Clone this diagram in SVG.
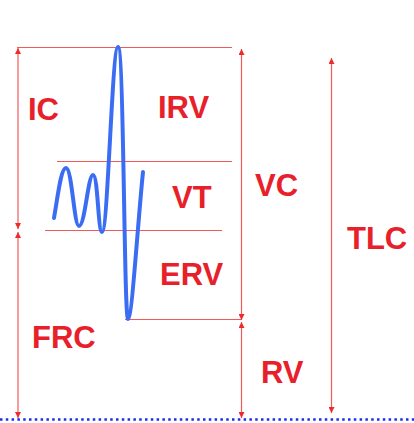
<svg xmlns="http://www.w3.org/2000/svg" width="414" height="423" viewBox="0 0 414 423">
<defs>
<style>
.ln{stroke:#f25a5a;stroke-width:1.2;fill:none}
.ar{stroke:#f25a5a;stroke-width:1.2;fill:none;marker-start:url(#ah);marker-end:url(#ah)}
.lb{font-family:"Liberation Sans",Arial,sans-serif;font-weight:bold;font-size:31px;fill:#e8202a}
.wave{stroke:#3a6cf4;stroke-width:4;fill:none;stroke-linecap:round;stroke-linejoin:round}
</style>
<marker id="ah" viewBox="0 0 10 10" refX="10" refY="5" markerWidth="7" markerHeight="6" markerUnits="userSpaceOnUse" orient="auto-start-reverse">
<path d="M0,0 L10,5 L0,10 z" fill="#ee2a2a"/>
</marker>
</defs>
<rect width="414" height="423" fill="#fff"/>
<g id="levels">
<line class="ln" x1="17" y1="47.5" x2="232" y2="47.5"/>
<line class="ln" x1="57" y1="161.5" x2="232" y2="161.5"/>
<line class="ln" x1="45" y1="230.5" x2="222" y2="230.5"/>
<line class="ln" x1="125" y1="319.5" x2="241" y2="319.5"/>
<line x1="0" y1="419.5" x2="414" y2="419.5" stroke="#1a2cf0" stroke-width="2.5" stroke-dasharray="2.5 3.3"/>
</g>
<g id="connectors">
<line class="ar" x1="18" y1="48" x2="18" y2="229"/>
<line class="ar" x1="18" y1="232" x2="18" y2="418"/>
<line class="ar" x1="241.5" y1="49" x2="241.5" y2="320"/>
<line class="ar" x1="241.5" y1="322" x2="241.5" y2="418"/>
<line class="ar" x1="331.5" y1="58" x2="331.5" y2="413"/>
</g>
<g id="spirogram">
<path class="wave" d="M54,218 C58,195 61,168 66,168 C72,168 74,226 79,226 C85,226 88,175 93,175 C98,175 98,232 102,232 C108,232 112,47 118,47 C124,47 124,319 128,319 C132,319 138,220 143,172"/>
</g>
<g id="node-IC"><text class="lb" x="28" y="120">IC</text></g>
<g id="node-IRV"><text class="lb" x="158" y="118">IRV</text></g>
<g id="node-VT"><text class="lb" x="172" y="208">VT</text></g>
<g id="node-VC"><text class="lb" x="255" y="196">VC</text></g>
<g id="node-TLC"><text class="lb" x="347" y="249">TLC</text></g>
<g id="node-ERV"><text class="lb" x="160" y="285">ERV</text></g>
<g id="node-FRC"><text class="lb" x="32" y="348">FRC</text></g>
<g id="node-RV"><text class="lb" x="261" y="383">RV</text></g>
</svg>
